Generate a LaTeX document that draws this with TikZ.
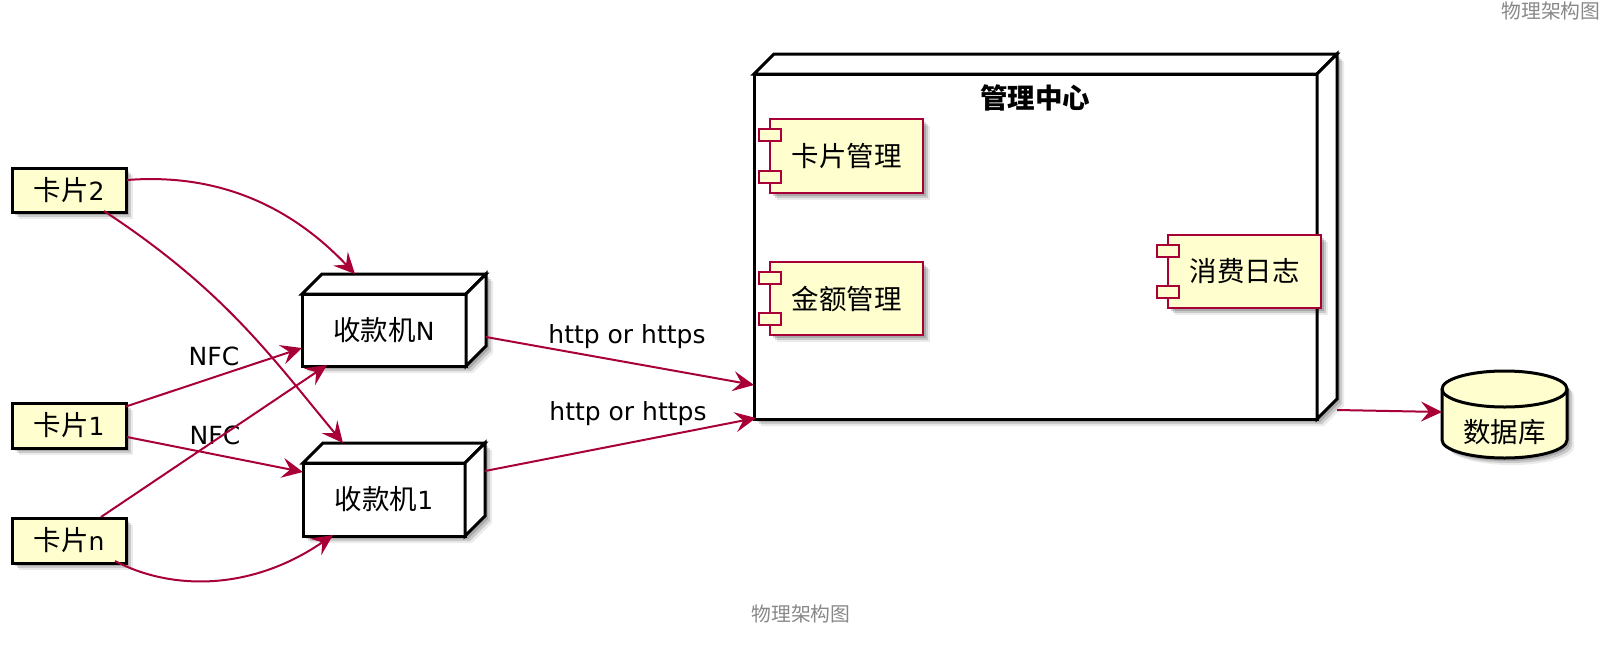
\documentclass[tikz,border=0pt]{standalone}
\usepackage{fontspec}
\setmainfont{DejaVu Sans}
\newfontfamily\cjk{Noto Sans CJK SC}[Scale=1.1]
\usetikzlibrary{arrows.meta,calc,shadows}
\definecolor{plyellow}{HTML}{FEFECE}
\definecolor{plred}{HTML}{A80036}
\definecolor{plgray}{HTML}{888888}
\pgfdeclarelayer{bg}
\pgfsetlayers{bg,main}
\begin{document}
\begin{tikzpicture}[x=1pt,y=-1pt,
  every node/.style={inner sep=0pt, outer sep=0pt, font=\fontsize{25}{30}\selectfont},
  pshadow/.style={drop shadow={shadow xshift=7pt,shadow yshift=-7pt,fill=black,opacity=0.08},
                  drop shadow={shadow xshift=5pt,shadow yshift=-5pt,fill=black,opacity=0.14},
                  drop shadow={shadow xshift=3pt,shadow yshift=-3pt,fill=black,opacity=0.16}},
  card/.style={draw=black, line width=3pt, fill=plyellow, minimum width=114pt, minimum height=44pt, pshadow},
  box3d/.style={draw=black, line width=3pt, fill=white},
  face/.style={draw=black, line width=3pt, fill=white, line join=miter},
  comp/.style={draw=plred, line width=2.5pt, fill=plyellow, minimum width=153pt, minimum height=73pt, pshadow},
  port/.style={draw=plred, line width=2.5pt, fill=plyellow},
  arr/.style={draw=plred, line width=2pt, -{Stealth[length=21pt, width=20pt, inset=8pt]}},
  lbl/.style={font=\fontsize{25}{30}\selectfont},
  ttl/.style={text=plgray, font=\fontsize{18}{22}\selectfont\cjk}
]
\useasboundingbox (0,0) rectangle (1624,645);

% header and caption
\node[ttl] (hdr) at (1551,11) {物理架构图};
\node[ttl] (cap) at (801,614) {物理架构图};

% cards
\node[card] (k2) at (69,190) {{\cjk 卡片}2};
\node[card, minimum height=45pt] (k1) at (69,425.5) {{\cjk 卡片}1};
\node[card, minimum height=45pt] (kn) at (69,540.5) {{\cjk 卡片}n};

% POS nodes (front faces)
\node[box3d, minimum width=164pt, minimum height=72pt] (rN) at (384,330) {{\cjk 收款机}N};
\node[box3d, minimum width=162pt, minimum height=73pt] (r1) at (384,499.5) {{\cjk 收款机}1};

% management center
\node[box3d, minimum width=563pt, minimum height=345pt] (mc) at (1035.5,246.5) {};
\node[font=\fontsize{25}{30}\selectfont\cjk\bfseries] (mct) at (1035,98) {管理中心};

% 3D faces and shadows
\foreach \n in {rN,r1,mc}{
  \begin{pgfonlayer}{bg}
    \path[fill=white, pshadow] (\n.north west) -- ++(20,-20) -- ($(\n.north east)+(20,-20)$)
      -- ($(\n.south east)+(20,-20)$) -- (\n.south east) -- (\n.south west) -- cycle;
  \end{pgfonlayer}
  \draw[face] (\n.north west) -- ++(20,-20) -- ($(\n.north east)+(20,-20)$) -- (\n.north east) -- cycle;
  \draw[face] (\n.north east) -- ++(20,-20) -- ($(\n.south east)+(20,-20)$) -- (\n.south east) -- cycle;
}

% components
\node[comp, minimum height=74pt] (kg) at (846.5,156) {\cjk 卡片管理};
\node[comp] (jg) at (846.5,298.5) {\cjk 金额管理};
\node[comp] (xr) at (1244.5,271.5) {\cjk 消费日志};
\foreach \n in {kg,jg,xr}{
  \draw[port] ($(\n.north west)+(-11,10)$) rectangle ++(22,12);
  \draw[port] ($(\n.south west)+(-11,-22)$) rectangle ++(22,12);
}

% database
\node[minimum width=125pt, minimum height=87pt] (db) at (1504.5,414.5) {};
\path[fill=plyellow, draw=black, line width=3pt, pshadow]
  ($(db.north west)+(0,18)$) -- ($(db.south west)+(0,-18)$)
  arc[start angle=180, end angle=360, x radius=62.5pt, y radius=18pt]
  -- ($(db.north east)+(0,18)$)
  arc[start angle=0, end angle=180, x radius=62.5pt, y radius=18pt] -- cycle;
\draw[black, line width=3pt] ($(db.north west)+(0,18)$)
  arc[start angle=180, end angle=360, x radius=62.5pt, y radius=18pt];
\node (dbt) at (1504.5,432) {\cjk 数据库};

% connectors
\draw[arr] ($(k2.east)+(1,-10)$) .. controls +(103,-8) and +(-55,-58) .. ($(rN.north)+(-29,-20)$);
\draw[arr] ($(k2.south)+(35,-1)$) .. controls +(120,79) and +(-73,-88) .. ($(r1.north)+(-41,-20)$);
\draw[arr] ($(k1.east)+(0,-19)$) -- ($(rN.west)+(0,18)$)
  node[lbl, pos=0.5, yshift=20.5pt] (nfc1) {NFC};
\draw[arr] ($(k1.east)+(1,11.5)$) -- ($(r1.west)+(0,-27.5)$)
  node[lbl, pos=0.5, yshift=19pt] (nfc2) {NFC};
\draw[arr] ($(kn.north)+(32,-1)$) -- ($(rN.south)+(-57,-1)$);
\draw[arr] ($(kn.south)+(46,-2)$) .. controls +(55,29) and +(-83,57) .. ($(r1.south)+(-51,-1)$);
\draw[arr] ($(rN.east)+(20,7)$) -- ($(mc.west)+(0,138.5)$)
  node[lbl, pos=0.5, xshift=7pt, yshift=24.5pt] (h1) {http or https};
\draw[arr] ($(r1.east)+(20,-28.5)$) -- ($(mc.south west)+(2,-1)$)
  node[lbl, pos=0.5, xshift=7.5pt, yshift=30.5pt] (h2) {http or https};
\draw[arr] ($(mc.south east)+(20,-9)$) -- ($(db.west)+(0,-2.5)$);
\end{tikzpicture}
\end{document}
